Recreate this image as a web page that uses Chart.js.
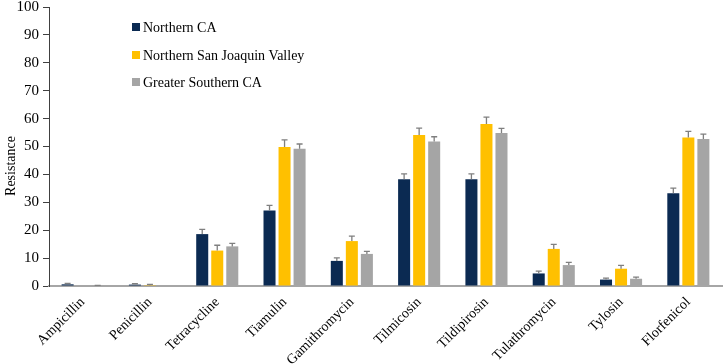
<!DOCTYPE html>
<html>
<head>
<meta charset="utf-8">
<script src="https://cdn.jsdelivr.net/npm/chart.js@4.4.1/dist/chart.umd.min.js"></script>
<style>
    html, body { margin: 0; padding: 0; background: #fff; }
    #wrap { width: 723px; height: 364px; position: relative; }
</style>
</head>
<body>
<div id="wrap"><canvas id="barChart"></canvas></div>
<script>
// Data
const drugs = ['Ampicillin', 'Penicillin', 'Tetracycline', 'Tiamulin', 'Gamithromycin',
    'Tilmicosin', 'Tildipirosin', 'Tulathromycin', 'Tylosin', 'Florfenicol'];

const northernCA = [0.6, 0.5, 18.6, 27.1, 9.0, 38.3, 38.3, 4.5, 2.3, 33.2];
const northernCAErr = [0.3, 0.3, 1.7, 1.8, 1.1, 1.9, 1.9, 0.8, 0.5, 1.9];

const sanJoaquin = [0, 0.3, 12.7, 49.8, 16.1, 54.1, 58.1, 13.3, 6.2, 53.2];
const sanJoaquinErr = [0, 0.3, 1.9, 2.6, 1.8, 2.5, 2.4, 1.6, 1.2, 2.2];

const southernCA = [0.1, 0, 14.2, 49.2, 11.5, 51.8, 54.8, 7.5, 2.6, 52.7];
const southernCAErr = [0.1, 0, 1.1, 1.7, 0.9, 1.7, 1.7, 1.0, 0.6, 1.7];

const yTicks = [0, 10, 20, 30, 40, 50, 60, 70, 80, 90, 100];

const serif = "'Liberation Serif', 'Times New Roman', Tinos, 'DejaVu Serif', serif";
const colors = ['#0B2A52', '#FFC000', '#A5A5A5'];

// Draws the upward error bars using the chart's own scales
const errorBars = {
    id: 'errorBars',
    afterDatasetsDraw(chart) {
        const ctx = chart.ctx;
        const y = chart.scales.y;
        ctx.save();
        ctx.strokeStyle = '#7F7F7F';
        ctx.lineWidth = 1.3;
        chart.data.datasets.forEach((ds, i) => {
            const meta = chart.getDatasetMeta(i);
            meta.data.forEach((bar, j) => {
                const err = ds.errors[j];
                if (!err) return;
                const y0 = y.getPixelForValue(ds.data[j]);
                const y1 = y.getPixelForValue(ds.data[j] + err);
                ctx.beginPath();
                ctx.moveTo(bar.x, y0);
                ctx.lineTo(bar.x, y1);
                ctx.moveTo(bar.x - 3, y1);
                ctx.lineTo(bar.x + 3, y1);
                ctx.stroke();
            });
        });
        ctx.restore();
    }
};

// Legend inside the plot and the y axis title
const extras = {
    id: 'extras',
    afterDraw(chart) {
        const ctx = chart.ctx;
        ctx.save();
        ctx.font = '14px ' + serif;
        ctx.textBaseline = 'middle';
        ctx.textAlign = 'left';
        const rows = [27, 55, 82];
        chart.data.datasets.forEach((ds, i) => {
            ctx.fillStyle = ds.backgroundColor;
            ctx.fillRect(132, rows[i] - 4, 8, 8);
            ctx.fillStyle = '#000';
            ctx.fillText(ds.label, 143, rows[i] + 1);
        });

        ctx.translate(11, 166);
        ctx.rotate(-Math.PI / 2);
        ctx.textAlign = 'center';
        ctx.fillText('Resistance', 0, 0);
        ctx.restore();
    }
};

new Chart(document.getElementById('barChart'), {
    type: 'bar',
    data: {
        labels: drugs,
        datasets: [
            { label: 'Northern CA', data: northernCA, errors: northernCAErr, backgroundColor: colors[0] },
            { label: 'Northern San Joaquin Valley', data: sanJoaquin, errors: sanJoaquinErr, backgroundColor: colors[1] },
            { label: 'Greater Southern CA', data: southernCA, errors: southernCAErr, backgroundColor: colors[2] }
        ]
    },
    options: {
        responsive: true,
        maintainAspectRatio: false,
        animation: false,
        categoryPercentage: 0.67,
        barPercentage: 0.8,
        layout: { padding: { top: 7, right: 1, left: 0, bottom: 0 } },
        plugins: {
            legend: { display: false },
            tooltip: { enabled: false }
        },
        scales: {
            x: {
                grid: { display: false, drawTicks: false },
                border: { color: '#A6A6A6', width: 2 },
                ticks: {
                    color: '#000',
                    font: { family: serif, size: 14 },
                    minRotation: 45,
                    maxRotation: 45,
                    padding: 8
                },
                afterFit(scale) {
                    scale.height = 78;
                    scale.paddingLeft = 0;
                    scale.paddingRight = 0;
                }
            },
            y: {
                min: 0,
                max: 100,
                afterBuildTicks(scale) { scale.ticks = yTicks.map(v => ({ value: v })); },
                grid: { drawOnChartArea: false, tickLength: 6, color: '#404040' },
                border: { color: '#404040', width: 1 },
                ticks: {
                    color: '#000',
                    font: { family: serif, size: 15 },
                    padding: 4
                },
                afterFit(scale) {
                    scale.width = 49;
                    scale.paddingTop = 0;
                    scale.paddingBottom = 0;
                }
            }
        }
    },
    plugins: [errorBars, extras]
});
</script>
</body>
</html>
